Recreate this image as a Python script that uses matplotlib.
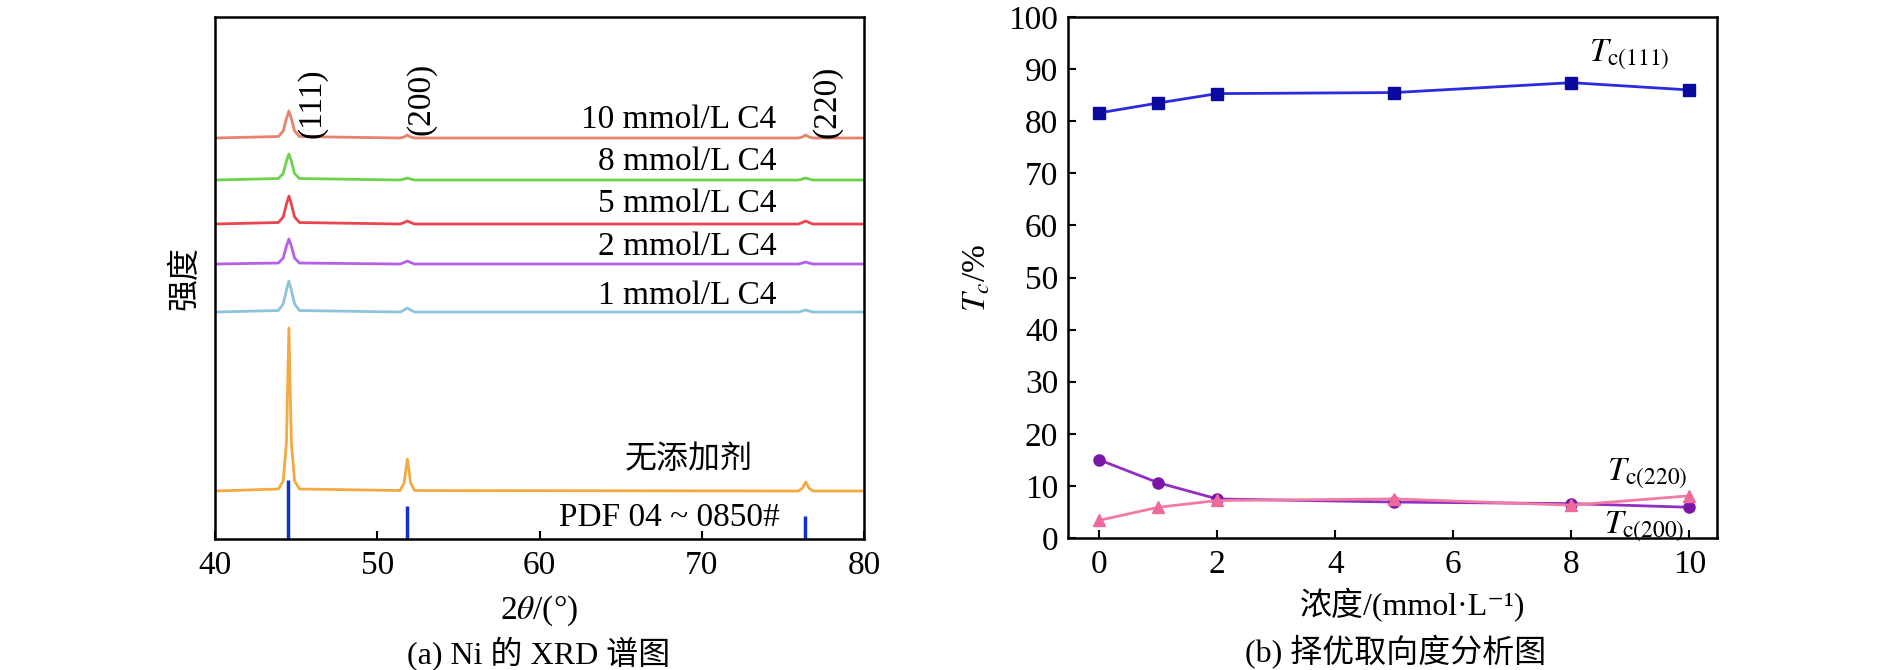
import matplotlib
matplotlib.use("Agg")
import matplotlib.pyplot as plt

plt.rcParams['font.family'] = ['Liberation Serif', 'Noto Sans CJK SC', 'DejaVu Sans']
plt.rcParams['mathtext.fontset'] = 'stix'
plt.rcParams['axes.unicode_minus'] = False

# ---- (a) XRD patterns, intensity in arbitrary units (stacked offsets) ----
two_theta = [40, 43.9, 44.2, 44.4, 44.55, 44.7, 44.9, 45.2,
             51.4, 51.65, 51.85, 52.05, 52.3,
             75.95, 76.2, 76.4, 76.6, 76.85, 80]
xrd_10 = [401, 402.5, 408, 420.5, 428, 420.5, 408, 402.5, 401, 402, 404, 402, 401, 401, 402, 404, 402, 401, 401]
xrd_8 = [359, 360.5, 365.5, 378, 385, 378, 365.5, 360.5, 359, 360, 361, 360, 359, 359, 360, 361, 360, 359, 359]
xrd_5 = [315, 316.5, 322, 335, 343, 335, 322, 316.5, 315, 316.5, 318, 316.5, 315, 315, 316.5, 318, 316.5, 315, 315]
xrd_2 = [275, 276, 281, 293, 300, 293, 281, 276, 275, 276.5, 278, 276.5, 275, 275, 276, 277, 276, 275, 275]
xrd_1 = [227, 228.5, 235, 249, 258, 249, 235, 228.5, 227, 229, 231, 229, 227, 227, 228, 229, 228, 227, 227]
xrd_0 = [48, 50, 58, 97, 211, 97, 58, 50, 48.5, 56, 80, 56, 48.5, 48, 51, 57, 51, 48, 48]

curve_names = ['10 mmol/L C4', '8 mmol/L C4', '5 mmol/L C4', '2 mmol/L C4', '1 mmol/L C4']
curve_colors = ['#E8826E', '#6DD34B', '#E8464F', '#B660E8', '#8DC4DC']
label_y = [419, 377, 335, 292, 243]

pdf_pos = [44.5, 51.85, 76.37]
pdf_height = [59, 33, 23]

hkl_labels = ['(111)', '(200)', '(220)']
hkl_x = [46.0, 52.7, 77.7]
hkl_y = [436, 440, 437]

# ---- (b) texture coefficient ----
conc = [0, 1, 2, 5, 8, 10]
tc_111 = [81.6, 83.5, 85.3, 85.5, 87.4, 86.0]
tc_220 = [15.0, 10.6, 7.5, 6.9, 6.6, 5.9]
tc_200 = [3.4, 5.9, 7.2, 7.5, 6.3, 8.1]

fig = plt.figure(figsize=(18.9, 6.7), dpi=100)
ax1 = fig.add_axes([0.1138, 0.1955, 0.3434, 0.7791])
ax2 = fig.add_axes([0.5651, 0.197, 0.3434, 0.7776])

fs = 24

# left panel
curves = [xrd_10, xrd_8, xrd_5, xrd_2, xrd_1]
for ys, c, name, ly in zip(curves, curve_colors, curve_names, label_y):
    ax1.plot(two_theta, ys, color=c, lw=2)
    ax1.text(74.6, ly, name, ha='right', va='center', fontsize=fs)
ax1.plot(two_theta, xrd_0, color='#F7A941', lw=2)
ax1.text(69.2, 79, '无添加剂', ha='center', va='center', fontsize=fs - 1)
ax1.vlines(pdf_pos, 0, pdf_height, color='#1030D0', lw=2.5)
ax1.text(68.0, 21, 'PDF 04 ~ 0850#', ha='center', va='center', fontsize=fs)
for lab, hx, hy in zip(hkl_labels, hkl_x, hkl_y):
    ax1.text(hx, hy, lab, rotation=90, ha='center', va='center', fontsize=fs)

ax1.set_xlim(40, 80)
ax1.set_ylim(0, 522)
ax1.set_xticks([40, 50, 60, 70, 80])
ax1.set_yticks([])
ax1.tick_params(axis='x', direction='in', length=6, width=1.5, labelsize=fs, pad=8)
ax1.set_ylabel('强度', fontsize=fs - 1)
ax1.yaxis.set_label_coords(-0.023, 0.5)

# right panel
ax2.plot(conc, tc_111, color='#2B2BE0', lw=2, marker='s', ms=8,
         mfc='#0A0A9E', mec='#0A0A9E')
ax2.plot(conc, tc_220, color='#9030C0', lw=2, marker='o', ms=8,
         mfc='#7A17A6', mec='#7A17A6')
ax2.plot(conc, tc_200, color='#F27BA5', lw=2, marker='^', ms=8,
         mfc='#EE6A9C', mec='#EE6A9C')
ax2.text(8.3, 91.5, r'$T_{\mathrm{c(111)}}$', fontsize=fs, va='baseline')
ax2.text(8.6, 11.1, r'$T_{\mathrm{c(220)}}$', fontsize=fs, va='baseline')
ax2.text(8.56, 1.0, r'$T_{\mathrm{c(200)}}$', fontsize=fs, va='baseline')

ax2.set_xlim(-0.53, 10.47)
ax2.set_ylim(0, 100)
ax2.set_xticks([0, 2, 4, 6, 8, 10])
ax2.set_yticks(range(0, 101, 10))
ax2.tick_params(direction='in', length=6, width=1.5, labelsize=fs)
ax2.tick_params(axis='x', pad=8)
ax2.tick_params(axis='y', pad=7)
ax2.set_ylabel(r'$T_c$/%', fontsize=fs)
ax2.yaxis.set_label_coords(-0.116, 0.5)

for ax in (ax1, ax2):
    for sp in ax.spines.values():
        sp.set_linewidth(1.8)

fig.text(0.285, 0.088, r'2$\theta$/(°)', ha='center', va='center', fontsize=fs)
fig.text(0.7476, 0.097, '浓度/(mmol·L⁻¹)', ha='center', va='center', fontsize=fs - 1)
fig.text(0.285, 0.024, '(a) Ni 的 XRD 谱图', ha='center', va='center', fontsize=fs - 1)
fig.text(0.7386, 0.026, '(b) 择优取向度分析图', ha='center', va='center', fontsize=fs - 1)

fig.savefig('out.png', dpi=100)
